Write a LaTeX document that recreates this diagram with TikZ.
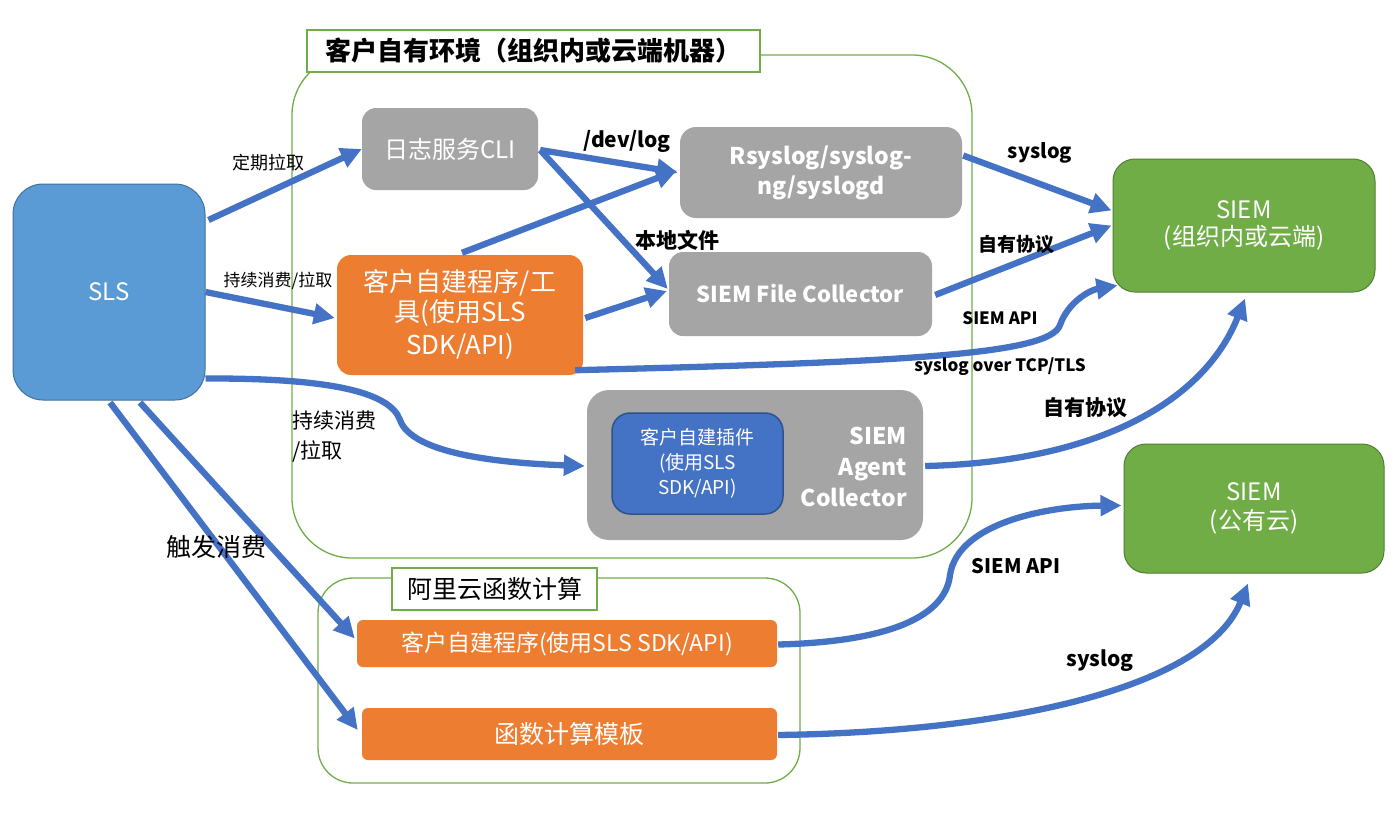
\documentclass[tikz,border=0pt]{standalone}
\usepackage{fontspec}
\newfontfamily\cjk{Noto Sans CJK SC}
\usetikzlibrary{arrows.meta,calc}
\definecolor{ablue}{HTML}{4472C4}
\definecolor{slsblue}{HTML}{5B9BD5}
\definecolor{slsborder}{HTML}{41719C}
\definecolor{boxgray}{HTML}{A5A5A5}
\definecolor{boxorange}{HTML}{ED7D31}
\definecolor{boxgreen}{HTML}{70AD47}
\definecolor{greenborder}{HTML}{507E32}
\definecolor{plugborder}{HTML}{2F528F}
\newcommand\fsz[2]{\fontsize{#1}{#2}\selectfont}
\begin{document}
\begin{tikzpicture}[x=1pt,y=-1pt,
  box/.style={rounded corners=#1, text=white, align=center, inner sep=0pt},
  graybox/.style={box=#1, fill=boxgray},
  orangebox/.style={box=#1, fill=boxorange},
  greenbox/.style={box=22pt, fill=boxgreen, draw=greenborder, line width=1pt},
  region/.style={draw=boxgreen, line width=1.3pt, rounded corners=#1, inner sep=0pt},
  titlebox/.style={draw=boxgreen, line width=1.3pt, fill=white, inner sep=0pt, text=black},
  arr/.style={draw=ablue, line width=6.3pt, -{Triangle[length=21pt,width=20pt]}},
  lbl/.style={text=black, inner sep=0pt},
]
\useasboundingbox (0,0) rectangle (1400,815);
\fill[white] (0,0) rectangle (1400,815);

% regions
\node[region=60pt, minimum width=680pt, minimum height=503pt] (env) at (632,306.5) {};
\node[titlebox, minimum width=453pt, minimum height=42pt, font=\cjk\bfseries\fsz{26}{30}] (envtitle) at (533.5,51)
  {客户自有环境（组织内或云端机器）};
\node[region=35pt, minimum width=482pt, minimum height=205pt] (fcregion) at (559,680.5) {};
\node[titlebox, minimum width=205pt, minimum height=42pt, font=\cjk\fsz{25}{30}] (fctitle) at (494.5,589)
  {阿里云函数计算};

% main nodes
\node[box=30pt, fill=slsblue, draw=slsborder, line width=1pt, minimum width=192pt, minimum height=216pt, font=\cjk\fsz{24}{28}] (sls) at (109,292)
  {SLS};
\node[graybox=14pt, minimum width=176pt, minimum height=82pt, font=\cjk\fsz{24}{28}] (cli) at (450,149)
  {日志服务CLI};
\node[graybox=16pt, minimum width=282pt, minimum height=91pt, font=\cjk\bfseries\fsz{23}{30}] (rsys) at (821,172.5)
  {Rsyslog/syslog-\\ng/syslogd};
\node[orangebox=14pt, minimum width=246pt, minimum height=120pt, font=\cjk\fsz{26}{33}] (tool) at (460,315)
  {\raisebox{-3pt}{客户自建程序/工}\\具(使用SLS\\SDK/API)};
\node[graybox=14pt, minimum width=263pt, minimum height=84pt, font=\cjk\bfseries\fsz{22}{28}] (fc) at (800.5,294)
  {SIEM File Collector};
\node[graybox=22pt, minimum width=336pt, minimum height=150pt] (agent) at (755,465) {};
\node[box=18pt, fill=ablue, draw=plugborder, line width=1.5pt, minimum width=171pt, minimum height=101pt, font=\cjk\fsz{19}{25}] (plugin) at (697.5,463.5)
  {客户自建插件\\(使用SLS\\SDK/API)};
\node[text=white, align=right, inner sep=0pt, anchor=east, font=\cjk\bfseries\fsz{23}{31}] (agentlbl) at (907,467)
  {SIEM\\Agent\\Collector};
\node[greenbox, minimum width=262pt, minimum height=133pt, font=\cjk\fsz{24}{31}] (siem1) at (1244,225.5)
  {\raisebox{-4pt}{SIEM}\\(组织内或云端)};
\node[greenbox, minimum width=260pt, minimum height=129pt, font=\cjk\fsz{24}{31}] (siem2) at (1254,508.5)
  {\raisebox{-2pt}{SIEM}\\(公有云)};
\node[orangebox=6pt, minimum width=420pt, minimum height=47pt, font=\cjk\fsz{23}{28}] (prog) at (567,643.5)
  {客户自建程序(使用SLS SDK/API)};
\node[orangebox=6pt, minimum width=415pt, minimum height=52pt, font=\cjk\fsz{25}{30}] (tmpl) at (569.5,734)
  {函数计算模板};

% connectors
\draw[arr] ([shift={(3,-72)}]sls.east) -- (cli.west);
\draw[arr] (sls.east) -- ([shift={(-2,3)}]tool.west);
\draw[arr] ([shift={(2,1)}]cli.east) -- ([shift={(-2,0)}]rsys.west);
\draw[arr] ([shift={(2,1)}]cli.east) -- ([shift={(-1,-5)}]fc.west);
\draw[arr] ([shift={(2,-2)}]tool.north) -- ([shift={(-3,-2)}]rsys.west);
\draw[arr] ([shift={(2,3)}]tool.east) -- ([shift={(-2,-3)}]fc.west);
\draw[arr] ([shift={(-8,-5)}]tool.south east) .. controls (900,362) and (1050,355) .. (1060,325)
  .. controls (1068,302) and (1090,290) .. ([shift={(5,-7)}]siem1.south west);
\draw[arr] ([shift={(1,-17)}]rsys.east) -- ([shift={(-1,-15)}]siem1.west);
\draw[arr] ([shift={(3,1)}]fc.east) -- ([shift={(-1,0)}]siem1.west);
\draw[arr] ([shift={(0,-22)}]sls.south east) .. controls (330,378) and (390,392) .. (400,420)
  .. controls (412,454) and (500,463) .. ([shift={(-2,1)}]agent.west);
\draw[arr] ([shift={(2,1)}]agent.east) .. controls (1100,462) and (1205,400) .. ([shift={(1,6)}]siem1.south);
\draw[arr] ([shift={(1,2)}]sls.south) -- ([shift={(-4,-4)}]tmpl.west);
\draw[arr] ([shift={(31,2)}]sls.south) -- ([shift={(-2,-5)}]prog.west);
\draw[arr] ([shift={(1,1)}]prog.east) .. controls (880,642) and (945,620) .. (950,575)
  .. controls (958,522) and (1050,506) .. ([shift={(-2,-3)}]siem2.west);
\draw[arr] ([shift={(1,1)}]tmpl.east) .. controls (1000,732) and (1205,690) .. ([shift={(-6,10)}]siem2.south);

% labels
\node[lbl, font=\cjk\fsz{18}{22}] (l1) at (268,163) {定期拉取};
\node[lbl, font=\cjk\fsz{17}{22}] (l2) at (278,281) {持续消费/拉取};
\node[lbl, font=\cjk\bfseries\fsz{21}{25}] (l3) at (627,141) {/dev/log};
\node[lbl, font=\cjk\bfseries\fsz{21}{25}] (l4) at (677,240) {本地文件};
\node[lbl, font=\cjk\bfseries\fsz{20}{24}] (l5) at (1040,153) {syslog};
\node[lbl, font=\cjk\bfseries\fsz{19}{24}] (l6) at (1016,244) {自有协议};
\node[lbl, font=\cjk\bfseries\fsz{17}{22}] (l7) at (1000,318) {SIEM API};
\node[lbl, font=\cjk\bfseries\fsz{17}{22}] (l8) at (1000,367) {syslog over TCP/TLS};
\node[lbl, align=left, anchor=west, font=\cjk\fsz{21}{30}] (l9) at (292,437) {持续消费\\/拉取};
\node[lbl, font=\cjk\bfseries\fsz{21}{25}] (l10) at (1085,408) {自有协议};
\node[lbl, font=\cjk\fsz{25}{30}] (l11) at (216,547) {触发消费};
\node[lbl, font=\cjk\bfseries\fsz{20}{24}] (l12) at (1016,566) {SIEM API};
\node[lbl, font=\cjk\bfseries\fsz{21}{25}] (l13) at (1100,661) {syslog};
\end{tikzpicture}
\end{document}
